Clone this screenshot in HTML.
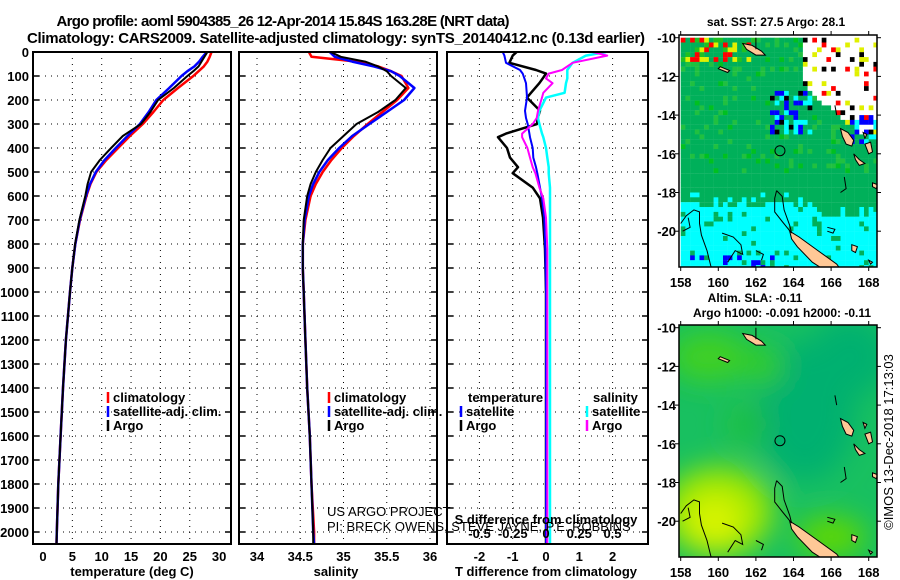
<!DOCTYPE html>
<html><head><meta charset="utf-8"><style>
html,body{margin:0;padding:0;background:#fff;}
svg{display:block;font-family:"Liberation Sans",sans-serif;}
text{font-weight:bold;fill:#000;}
</style></head><body>
<svg id="fig" width="900" height="580" viewBox="0 0 900 580" xmlns="http://www.w3.org/2000/svg">
<defs>
<clipPath id="c1"><rect x="33" y="52" width="198" height="492"/></clipPath>
<clipPath id="c2"><rect x="239" y="52" width="198" height="492"/></clipPath>
<clipPath id="c3"><rect x="447" y="52" width="201" height="492"/></clipPath>
<clipPath id="cm1"><rect x="679" y="35" width="198" height="232"/></clipPath>
<clipPath id="cm2"><rect x="679" y="325" width="198" height="232"/></clipPath>
<filter id="blur" x="-50%" y="-50%" width="200%" height="200%"><feGaussianBlur stdDeviation="14"/></filter>
</defs>
<text x="283" y="26" text-anchor="middle" font-size="15" textLength="453">Argo profile: aoml 5904385_26 12-Apr-2014 15.84S 163.28E (NRT data)</text>
<text x="27" y="43" font-size="15" textLength="618">Climatology: CARS2009. Satellite-adjusted climatology: synTS_20140412.nc (0.13d earlier)</text>
<g id="g"></g>
</svg>
<script>
// ---- profile data ----
const depths = [0,20,40,60,80,100,150,200,250,300,350,400,450,500,550,600,700,800,900,1000,1200,1400,1600,1800,2000,2050];
const tempClim = [28.7,28.4,28.0,27.4,26.5,25.6,23.0,20.5,18.8,17.0,14.8,12.8,10.8,9.1,8.1,7.4,6.3,5.5,5.0,4.6,3.9,3.4,3.0,2.6,2.35,2.3];
const tempSat = [27.9,27.2,26.6,25.8,24.6,23.6,21.5,19.3,18.0,16.5,14.4,12.4,10.5,9.0,8.0,7.3,6.25,5.5,5.0,4.6,3.9,3.4,3.0,2.6,2.35,2.3];
const tempArgo = [28.0,27.5,27.0,26.5,25.6,24.6,22.3,19.6,18.3,16.7,13.6,11.6,9.7,8.2,7.6,7.2,6.2,5.47,5.0,4.6,3.9,3.4,3.0,2.6,2.35,2.3];
const salClim = [34.6,34.63,35.15,35.4,35.55,35.67,35.75,35.62,35.45,35.28,35.12,34.98,34.86,34.76,34.68,34.62,34.56,34.53,34.53,34.54,34.56,34.58,34.61,34.63,34.66,34.66];
const salSat = [34.84,34.9,35.1,35.35,35.55,35.65,35.82,35.7,35.5,35.3,35.1,34.95,34.82,34.72,34.65,34.6,34.55,34.53,34.53,34.54,34.56,34.58,34.61,34.63,34.65,34.66];
const salArgo = [34.85,34.97,35.25,35.4,35.5,35.55,35.72,35.6,35.4,35.15,35.0,34.85,34.76,34.68,34.62,34.58,34.54,34.53,34.53,34.54,34.56,34.58,34.61,34.63,34.65,34.65];
const diffDepths = [0,15,45,75,90,110,130,170,190,245,275,300,340,355,400,440,480,505,565,610,690,820,1000,1500,2050];
const tDiffArgo = [-0.88,-1.0,-1.1,-0.3,0.0,-0.1,-0.2,-0.45,-0.57,-0.18,-0.25,-0.27,-1.2,-1.44,-1.17,-1.08,-0.84,-1.0,-0.4,-0.18,-0.09,-0.03,0.0,0.0,0.0];
const tDiffSat = [-1.3,-1.25,-1.2,-0.78,-0.7,-0.65,-0.6,-0.58,-0.57,-0.63,-0.6,-0.55,-0.5,-0.48,-0.4,-0.38,-0.3,-0.26,-0.18,-0.12,-0.05,-0.02,0.0,0.0,0.0];
const sDiffSat = [0.45,0.3,0.2,0.16,0.16,0.16,0.15,0.14,0.0,-0.05,-0.06,-0.05,-0.03,-0.02,0.0,0.01,0.02,0.02,0.03,0.03,0.03,0.03,0.03,0.03,0.03];
const sDiffArgo = [0.35,0.46,0.2,0.12,0.02,0.0,0.05,-0.02,-0.03,-0.06,-0.07,-0.1,-0.18,-0.18,-0.14,-0.12,-0.1,-0.08,-0.05,-0.02,0.0,0.01,0.01,0.01,0.01];
const depthTicks = [0,100,200,300,400,500,600,700,800,900,1000,1100,1200,1300,1400,1500,1600,1700,1800,1900,2000];
const tempTicks = [0,5,10,15,20,25,30];
const salTicks = [34,34.5,35,35.5,36];
const salTickLabels = ["34","34.5","35","35.5","36"];
const tDiffTicks = [-2,-1,0,1,2];
const sDiffTicks = [-0.5,-0.25,0,0.25,0.5];
const sDiffTickLabels = ["-0.5","-0.25","0","0.25","0.5"];
// ---- map annotations ----
const mapLatTicks = [-10,-12,-14,-16,-18,-20];
const mapLonTicks = [158,160,162,164,166,168];
const argoLon = 163.28, argoLat = -15.84;

const NS="http://www.w3.org/2000/svg";
const G=document.getElementById('g');
function mk(tag,attrs,parent){const e=document.createElementNS(NS,tag);for(const k in attrs)e.setAttribute(k,attrs[k]);(parent||G).appendChild(e);return e;}

const yD = d => 52 + d*0.24;
const xT = t => 43 + t*5.87;
const xS = s => 257 + (s-34)*86.5;
const xTd = t => 546 + t*33.3;
const xSd = s => 546 + s*133;

function panel(x0,x1,name,vticks,xf,clip){
  const g=mk('g',{});
  
  
  depthTicks.forEach(d=>{if(d>0){const l=mk('line',{x1:x0,x2:x1,y1:yD(d),y2:yD(d),stroke:'#000','stroke-width':1,'stroke-dasharray':'1,5'},g);
    
    }});
  vticks.forEach(v=>{const l=mk('line',{x1:xf(v),x2:xf(v),y1:52,y2:544,stroke:'#000','stroke-width':1,'stroke-dasharray':'1,5'},g);
    
    });
  const pg=mk('g',{'clip-path':'url(#'+clip+')'},g);
  return {g,pg,x0,x1};
}
function frame(x0,x1,name){
  const r=mk('rect',{x:x0,y:52,width:x1-x0,height:492,fill:'none',stroke:'#000','stroke-width':2});
  
  
  depthTicks.forEach(d=>{mk('line',{x1:x0,x2:x0+6,y1:yD(d),y2:yD(d),stroke:'#000','stroke-width':1.5});mk('line',{x1:x1-6,x2:x1,y1:yD(d),y2:yD(d),stroke:'#000','stroke-width':1.5});});
}
function line(parent,xs,ds,xf,color,name,w){
  const pts=xs.map((v,i)=>xf(v).toFixed(1)+','+yD(ds[i]).toFixed(1)).join(' ');
  const p=mk('polyline',{points:pts,fill:'none',stroke:color,'stroke-width':w||2.5,'stroke-linejoin':'round'},parent);
  
  
}
const p1=panel(33,231,'temperature-panel',tempTicks.slice(1,-1),xT,'c1');
line(p1.pg,tempClim,depths,xT,'#f00','temperature-climatology-line');
line(p1.pg,tempSat,depths,xT,'#00f','temperature-satellite-line');
line(p1.pg,tempArgo,depths,xT,'#000','temperature-argo-line',2);
frame(33,231,'temperature-axes-frame');
const p2=panel(239,437,'salinity-panel',salTicks,xS,'c2');
line(p2.pg,salClim,depths,xS,'#f00','salinity-climatology-line');
line(p2.pg,salSat,depths,xS,'#00f','salinity-satellite-line');
line(p2.pg,salArgo,depths,xS,'#000','salinity-argo-line',2);
frame(239,437,'salinity-axes-frame');
const p3=panel(447,648,'difference-panel',[-2,-1,1,2],xTd,'c3');
line(p3.pg,tDiffArgo,diffDepths,xTd,'#000','t-diff-argo-line',2.5);
line(p3.pg,tDiffSat,diffDepths,xTd,'#00f','t-diff-satellite-line',2);
line(p3.pg,sDiffSat,diffDepths,xSd,'#0ff','s-diff-satellite-line',2.5);
line(p3.pg,sDiffArgo,diffDepths,xSd,'#f0f','s-diff-argo-line',2);
frame(447,648,'difference-axes-frame');

function txt(x,y,s,opt,name){
  const t=mk('text',Object.assign({x:x,y:y,'font-size':13},opt||{}));
  t.textContent=s;
  
  
  return t;
}
depthTicks.forEach(d=>txt(29,yD(d)+5,String(d),{'text-anchor':'end'},'depth-tick-label'));
tempTicks.forEach(v=>txt(xT(v),561,String(v),{'text-anchor':'middle'},'temperature-tick-label'));
salTicks.forEach((v,i)=>txt(xS(v),561,salTickLabels[i],{'text-anchor':'middle'},'salinity-tick-label'));
tDiffTicks.forEach(v=>txt(xTd(v),561,String(v),{'text-anchor':'middle'},'t-diff-tick-label'));
sDiffTicks.forEach((v,i)=>txt(xSd(v),538,sDiffTickLabels[i],{'text-anchor':'middle'},'s-diff-tick-label'));
txt(132,576,'temperature (deg C)',{'text-anchor':'middle'},'temperature-axis-title');
txt(336,576,'salinity',{'text-anchor':'middle'},'salinity-axis-title');
txt(546,576,'T difference from climatology',{'text-anchor':'middle'},'t-diff-axis-title');
txt(546,524,'S difference from climatology',{'text-anchor':'middle'},'s-diff-axis-title');
txt(327,516,'US ARGO PROJECT',{style:'font-weight:normal','fill':'#222'},'project-credit');
txt(327,531,'PI: BRECK OWENS, STEVE JAYNE, P.E. ROBBINS',{style:'font-weight:normal','fill':'#222'},'pi-credit');

function legend(x,y,color,label,name){
  const l=mk('line',{x1:x,x2:x,y1:y-10,y2:y+1,stroke:color,'stroke-width':2.5});
  
  
  txt(x+5,y,label,{},name);
}
legend(108,402,'#f00','climatology','legend-climatology');
legend(108,416,'#00f','satellite-adj. clim.','legend-satellite');
legend(108,430,'#000','Argo','legend-argo');
legend(329,402,'#f00','climatology','legend-sal-climatology');
legend(329,416,'#00f','satellite-adj. clim.','legend-sal-satellite');
legend(329,430,'#000','Argo','legend-sal-argo');
txt(468,402,'temperature',{},'legend-temperature-heading');
legend(461,416,'#00f','satellite','legend-t-satellite');
legend(461,430,'#000','Argo','legend-t-argo');
txt(593,402,'salinity',{},'legend-salinity-heading');
legend(587,416,'#0ff','satellite','legend-s-satellite');
legend(587,430,'#f0f','Argo','legend-s-argo');

// ---- maps ----
const mx = lon => 680.7 + (lon-158)*18.8;
const myT = lat => 37.7 + (-10-lat)*19.35;
const myB = lat => myT(lat)+290;
function hash(i,j){let h=(i*374761393+j*668265263)|0;h=(h^(h>>>13))*1274126177|0;return ((h^(h>>>16))>>>0)/4294967296;}

const m1=mk('g',{'clip-path':'url(#cm1)'});


const cs=0.25;
for(let i=0;i<43;i++){for(let j=0;j<49;j++){
  const lon=158+i*cs, lat=-10-j*cs, h=hash(i,j);
  const cyanB=-18.6-0.15*Math.sin(lon*1.3)-(lon>165?0.5:0);
  let c='#00b05a';
  if(h<0.12&&lat>-17)c='#20c040'; else if(h<0.16&&lat>-17)c='#00c020';
  if(lat<cyanB){c=h<0.1?'#00b05a':'#00ffff'; if(lat<-21.2&&h>0.8&&lon<163)c='#0000ff';}
  else if(lat<cyanB+0.6&&h<0.3)c='#00ffff';
  if(lat>-11.2&&lon<162){c=h<0.15?'#ff0000':h<0.28?'#e0f000':h<0.45?'#20c020':c;}
  if(lon>164.3&&lat>-14.8&&lat>-12.3-(lon-164.3)*0.8){c=h<0.82?'#ffffff':h<0.88?'#000000':h<0.94?'#ff0000':'#e0f000';}
  else if(lon>162.5&&lon<165&&lat>-15.0&&lat<-12.6){c=h<0.25?'#0000ff':h<0.55?'#00ffff':h<0.62?'#000000':c;}
  if(lon>166.7&&lat<-13.5&&lat>-15.5&&h<0.4)c=h<0.2?'#0000ff':'#00ffff';
  mk('rect',{x:mx(lon).toFixed(1),y:myT(lat).toFixed(1),width:4.9,height:5.0,fill:c},m1);
}}
const m2=mk('g',{'clip-path':'url(#cm2)'});


mk('rect',{x:679,y:325,width:198,height:232,fill:'#18c060'},m2);
const bl=mk('g',{filter:'url(#blur)'},m2);
mk('ellipse',{cx:mx(164.6),cy:myB(-14.3),rx:50,ry:70,fill:'#00b070'},bl);
mk('ellipse',{cx:mx(167),cy:myB(-11.5),rx:40,ry:40,fill:'#00b070'},bl);
mk('ellipse',{cx:mx(159.5),cy:myB(-11.5),rx:40,ry:25,fill:'#40d020'},bl);
mk('ellipse',{cx:mx(162.5),cy:myB(-12),rx:18,ry:20,fill:'#30cc20'},bl);
mk('ellipse',{cx:mx(160),cy:myB(-19.5),rx:55,ry:45,fill:'#a0e800'},bl);
mk('ellipse',{cx:mx(159.8),cy:myB(-20),rx:28,ry:26,fill:'#d8f400'},bl);
mk('ellipse',{cx:mx(166),cy:myB(-20.8),rx:35,ry:20,fill:'#60d800'},bl);
mk('ellipse',{cx:mx(161.5),cy:myB(-15),rx:20,ry:20,fill:'#20c040'},bl);

const landPolys=[
 [[161.3,-10.3],[161.8,-10.4],[162.3,-10.7],[162.5,-10.9],[162.0,-10.9],[161.5,-10.6]],
 [[160.1,-11.5],[160.6,-11.7],[160.5,-11.8],[160.0,-11.6]],
 [[163.8,-20.0],[164.3,-20.3],[165.3,-21.0],[166.3,-21.7],[166.6,-22.1],[165.8,-22.1],[165.0,-21.6],[164.2,-20.8],[163.9,-20.4]],
 [[166.5,-14.7],[166.9,-14.9],[167.2,-15.3],[167.1,-15.6],[166.8,-15.5],[166.6,-15.1]],
 [[167.2,-16.0],[167.5,-16.3],[167.8,-16.5],[167.5,-16.6],[167.3,-16.3]],
 [[168.2,-17.5],[168.5,-17.6],[168.4,-17.8],[168.2,-17.7]],
 [[167.1,-20.7],[167.4,-20.8],[167.3,-21.1],[167.1,-21.0]],
 [[168.0,-21.5],[168.2,-21.6],[168.1,-21.7]],
 [[167.8,-15.5],[168.1,-15.4],[168.2,-15.9],[168.0,-16.0]],
 [[167.7,-14.9],[167.9,-15.0],[167.8,-15.2]]
];
const contours=[
 [[158.0,-19.6],[158.3,-19.2],[158.7,-18.9],[159.0,-19.0],[159.0,-19.6],[159.1,-20.2],[159.4,-21.0],[159.6,-21.8],[159.7,-22.0]],
 [[158.1,-20.0],[158.5,-19.8],[158.4,-19.3]],
 [[160.2,-20.1],[160.8,-20.3],[161.2,-20.7],[161.3,-21.2],[160.9,-21.0],[160.5,-21.6]],
 [[163.1,-17.9],[163.4,-18.2],[163.5,-18.9],[163.8,-19.7],[163.9,-20.1],[163.4,-19.5],[163.0,-19.0],[163.0,-18.3],[163.1,-17.9]],
 [[162.0,-21.0],[162.4,-21.2],[162.3,-21.5]],
 [[165.8,-19.8],[166.2,-19.9],[166.1,-20.1],[165.8,-20.0]],
 [[166.7,-17.2],[166.8,-17.8],[166.5,-18.0]],
 [[162.0,-10.0],[162.0,-10.6]],
 [[166.2,-13.5],[166.3,-14.0]]
];
function drawGeo(yf,tag){
  landPolys.forEach(p=>{const e=mk('polygon',{points:p.map(q=>mx(q[0]).toFixed(1)+','+yf(q[1]).toFixed(1)).join(' '),fill:'#ffc896',stroke:'#000','stroke-width':1},tag);
    
    });
  contours.forEach(p=>{const e=mk('polyline',{points:p.map(q=>mx(q[0]).toFixed(1)+','+yf(q[1]).toFixed(1)).join(' '),fill:'none',stroke:'#000','stroke-width':1},tag);
    
    });
  const c=mk('circle',{cx:mx(argoLon),cy:yf(argoLat),r:5,fill:'none',stroke:'#000','stroke-width':1},tag);
  
  
}
drawGeo(myT,m1);drawGeo(myB,m2);
function mapFrame(y0,yf,name){
  const r=mk('rect',{x:679,y:y0,width:198,height:232,fill:'none',stroke:'#000','stroke-width':1.5});
  
  
  mapLatTicks.forEach(l=>{mk('line',{x1:675,x2:679,y1:yf(l),y2:yf(l),stroke:'#000'});mk('line',{x1:877,x2:881,y1:yf(l),y2:yf(l),stroke:'#000'});
    txt(676,yf(l)+5,String(l),{'text-anchor':'end'},'map-lat-label');});
  mapLonTicks.forEach(l=>{mk('line',{x1:mx(l),x2:mx(l),y1:y0,y2:y0-4,stroke:'#000'});mk('line',{x1:mx(l),x2:mx(l),y1:y0+232,y2:y0+236,stroke:'#000'});
    txt(mx(l),y0+252,String(l),{'text-anchor':'middle'},'map-lon-label');});
}
mapFrame(35,myT,'sst-map-frame');
mapFrame(325,myB,'sla-map-frame');
txt(776,26,'sat. SST: 27.5 Argo: 28.1',{'text-anchor':'middle','font-size':12},'sst-map-title');
txt(755,302,'Altim. SLA: -0.11',{'text-anchor':'middle','font-size':12},'sla-map-title');
txt(782,317,'Argo h1000: -0.091 h2000: -0.11',{'text-anchor':'middle','font-size':12},'sla-map-subtitle');
txt(0,0,'©IMOS 13-Dec-2018 17:13:03',{'text-anchor':'middle',transform:'translate(893,442) rotate(-90)',style:'font-weight:normal'},'copyright-stamp');
</script>
</body></html>
